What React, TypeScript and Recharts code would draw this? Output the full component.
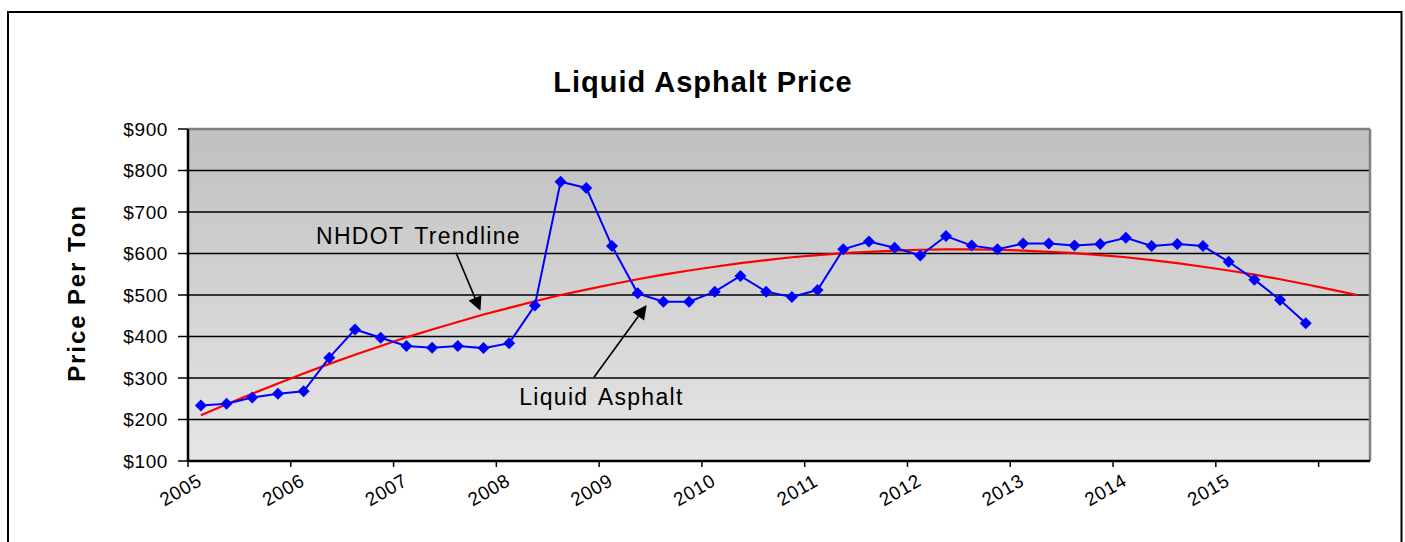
import {
  CartesianGrid,
  Line,
  LineChart,
  ReferenceDot,
  ReferenceLine,
  XAxis,
  YAxis,
} from "recharts"

// quarterly readings, 2005 Q1 .. 2016 Q2
const quarters = [
  "2005 Q1", "2005 Q2", "2005 Q3", "2005 Q4",
  "2006 Q1", "2006 Q2", "2006 Q3", "2006 Q4",
  "2007 Q1", "2007 Q2", "2007 Q3", "2007 Q4",
  "2008 Q1", "2008 Q2", "2008 Q3", "2008 Q4",
  "2009 Q1", "2009 Q2", "2009 Q3", "2009 Q4",
  "2010 Q1", "2010 Q2", "2010 Q3", "2010 Q4",
  "2011 Q1", "2011 Q2", "2011 Q3", "2011 Q4",
  "2012 Q1", "2012 Q2", "2012 Q3", "2012 Q4",
  "2013 Q1", "2013 Q2", "2013 Q3", "2013 Q4",
  "2014 Q1", "2014 Q2", "2014 Q3", "2014 Q4",
  "2015 Q1", "2015 Q2", "2015 Q3", "2015 Q4",
  "2016 Q1", "2016 Q2",
]

const asphalt = [
  234, 238, 253, 262, 268, 349, 417, 397, 377, 373, 377, 372,
  384, 475, 773, 758, 618, 504, 484, 484, 508, 546, 508, 495,
  512, 610, 629, 614, 595, 642, 619, 610, 624, 624, 619, 623,
  638, 618, 623, 618, 580, 537, 488, 432,
]

const trendline = [
  210, 237, 262, 287, 311, 334, 356, 377, 398, 417, 435, 453,
  469, 485, 500, 513, 526, 538, 549, 559, 568, 577, 584, 591,
  596, 601, 604, 607, 609, 610, 610, 609, 607, 604, 601, 596,
  591, 584, 577, 568, 559, 549, 538, 526, 513, 500,
]

const yearLabels = ["2005", "2006", "2007", "2008", "2009", "2010", "2011", "2012", "2013", "2014", "2015", ""]
const xTicks = [0, 4, 8, 12, 16, 20, 24, 28, 32, 36, 40, 44]
const yTicks = [100, 200, 300, 400, 500, 600, 700, 800, 900]

const data = quarters.map((q, i) => ({
  quarter: q,
  pos: i + 0.5,
  asphalt: i < asphalt.length ? asphalt[i] : null,
  trend: trendline[i],
}))

const FONT = "'Liberation Sans', Arial, sans-serif"

function Diamond(props: any) {
  const { cx, cy, value } = props
  if (cx == null || cy == null || value == null) return null
  const s = 6
  return (
    <path
      d={`M${cx},${cy - s}L${cx + s},${cy}L${cx},${cy + s}L${cx - s},${cy}Z`}
      fill="#0000ff"
    />
  )
}

function YearTick(props: any) {
  const { x, y, payload } = props
  const label = yearLabels[xTicks.indexOf(payload.value)]
  const cx = x - 7.5
  const cy = y + 21
  return (
    <text
      x={cx}
      y={cy}
      transform={`rotate(-30 ${cx} ${cy})`}
      textAnchor="middle"
      dominantBaseline="central"
      fontSize={19}
      letterSpacing={0.6}
      fontFamily={FONT}
      fill="#000"
    >
      {label}
    </text>
  )
}

// line with filled arrow head at the second point
function Arrow(props: any) {
  const { x1, y1, x2, y2 } = props
  const dx = x2 - x1
  const dy = y2 - y1
  const len = Math.hypot(dx, dy) || 1
  const ux = dx / len
  const uy = dy / len
  const hl = 14
  const hw = 7
  const bx = x2 - ux * hl
  const by = y2 - uy * hl
  return (
    <g>
      <line x1={x1} y1={y1} x2={bx} y2={by} stroke="#000" strokeWidth={1.6} />
      <polygon
        points={`${x2},${y2} ${bx - uy * hw},${by + ux * hw} ${bx + uy * hw},${by - ux * hw}`}
        fill="#000"
      />
    </g>
  )
}

function note(text: string) {
  return (props: any) => (
    <text
      x={props.cx}
      y={props.cy}
      textAnchor="middle"
      fontSize={23}
      letterSpacing={1.3}
      wordSpacing={3}
      fontFamily={FONT}
      fill="#000"
    >
      {text}
    </text>
  )
}

export default function App() {
  return (
    <div style={{ position: "relative", width: 1405, height: 542, background: "#fff" }}>
      <style>{`body{margin:0}`}</style>
      <LineChart
        width={1405}
        height={542}
        data={data}
        margin={{ top: 129, right: 35, bottom: 31, left: 108 }}
      >
        <defs>
          <linearGradient id="plotBg" x1="0" y1="0" x2="0" y2="1">
            <stop offset="0%" stopColor="#c0c0c0" />
            <stop offset="100%" stopColor="#e6e6e6" />
          </linearGradient>
        </defs>
        <CartesianGrid
          vertical={false}
          stroke="#000"
          strokeWidth={1.6}
          fill="url(#plotBg)"
          fillOpacity={1}
        />
        <XAxis
          dataKey="pos"
          type="number"
          domain={[0, 46]}
          ticks={xTicks}
          interval={0}
          height={50}
          axisLine={{ stroke: "#000", strokeWidth: 2.5 }}
          tickLine={{ stroke: "#000", strokeWidth: 1.5 }}
          tickSize={6}
          tick={<YearTick />}
        />
        <YAxis
          type="number"
          domain={[100, 900]}
          ticks={yTicks}
          interval={0}
          width={80}
          axisLine={{ stroke: "#000", strokeWidth: 2.5 }}
          tickLine={{ stroke: "#000", strokeWidth: 1.5 }}
          tickSize={10}
          tickMargin={10}
          tickFormatter={(v) => `$${v}`}
          tick={{ fontSize: 19, fill: "#000", fontFamily: FONT, letterSpacing: 0.6 }}
          label={{
            content: ({ viewBox }: any) => {
              const cx = viewBox.x - 31.5
              const cy = 293
              return (
                <text
                  x={cx}
                  y={cy}
                  transform={`rotate(-90 ${cx} ${cy})`}
                  textAnchor="middle"
                  dominantBaseline="central"
                  fontSize={24}
                  fontWeight="bold"
                  letterSpacing={1.9}
                  fontFamily={FONT}
                  fill="#000"
                >
                  Price Per Ton
                </text>
              )
            },
          }}
        />
        <ReferenceLine y={900} stroke="#808080" strokeWidth={2.5} />
        <ReferenceLine x={46} stroke="#808080" strokeWidth={2.5} />
        <Line
          dataKey="trend"
          stroke="#ff0000"
          strokeWidth={2.2}
          dot={false}
          isAnimationActive={false}
        />
        <Line
          dataKey="asphalt"
          stroke="#0000ff"
          strokeWidth={2}
          dot={<Diamond />}
          activeDot={false}
          isAnimationActive={false}
        />
        <ReferenceLine
          segment={[{ x: 10.43, y: 602 }, { x: 11.38, y: 462 }]}
          shape={Arrow}
        />
        <ReferenceLine
          segment={[{ x: 15.8, y: 302 }, { x: 17.85, y: 476 }]}
          shape={Arrow}
        />
        <ReferenceDot x={8.97} y={623} r={0} shape={note("NHDOT Trendline")} />
        <ReferenceDot x={16.09} y={234} r={0} shape={note("Liquid Asphalt")} />
      </LineChart>
      <svg
        width={1405}
        height={542}
        style={{ position: "absolute", left: 0, top: 0, pointerEvents: "none" }}
      >
        <rect x={8} y={12} width={1393.5} height={560} fill="none" stroke="#000" strokeWidth={2} />
        <text
          x={703}
          y={92.3}
          textAnchor="middle"
          fontSize={29}
          fontWeight="bold"
          letterSpacing={1}
          fontFamily={FONT}
          fill="#000"
        >
          Liquid Asphalt Price
        </text>
      </svg>
    </div>
  )
}
